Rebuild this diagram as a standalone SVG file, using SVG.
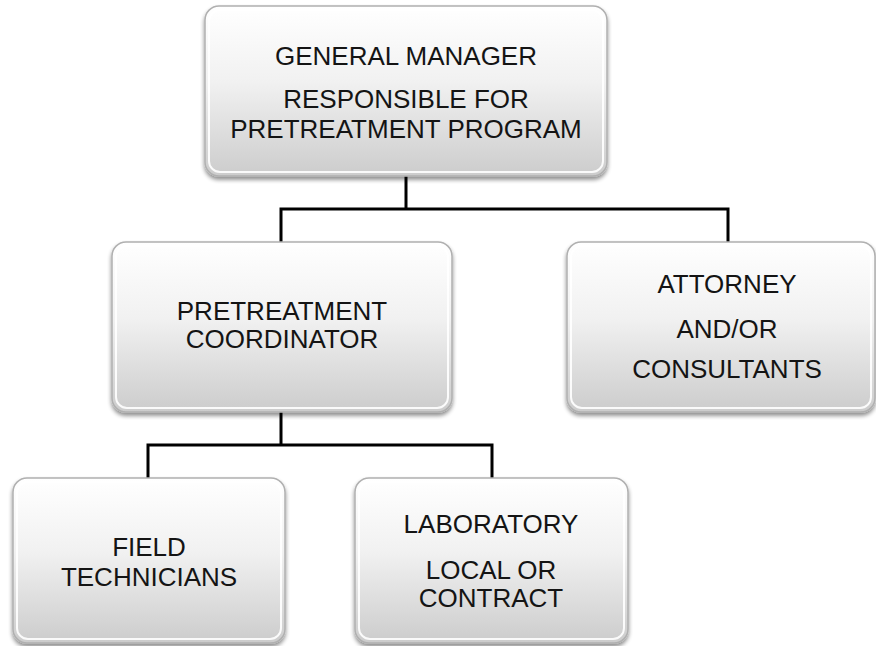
<svg xmlns="http://www.w3.org/2000/svg" width="876" height="646" viewBox="0 0 876 646">
  <defs>
    <linearGradient id="boxFill" x1="0" y1="0" x2="0" y2="1">
      <stop offset="0" stop-color="#ffffff"/>
      <stop offset="0.45" stop-color="#f1f1f1"/>
      <stop offset="1" stop-color="#cccccc"/>
    </linearGradient>
    <filter id="shadow" x="-5%" y="-5%" width="110%" height="115%">
      <feGaussianBlur in="SourceAlpha" stdDeviation="2"/>
      <feOffset dx="0" dy="3" result="b"/>
      <feComponentTransfer><feFuncA type="linear" slope="0.45"/></feComponentTransfer>
      <feMerge><feMergeNode/><feMergeNode in="SourceGraphic"/></feMerge>
    </filter>
  </defs>
  <style>
    .box { fill: url(#boxFill); stroke: #b0b0b0; stroke-width: 1.5; filter: url(#shadow); }
    .hl { fill: none; stroke: #ffffff; stroke-width: 2; opacity: 0.9; }
    .lbl { font-family: "Liberation Sans", Arial, sans-serif; font-size: 26px; fill: #141414; text-anchor: middle; }
    .conn { fill: none; stroke: #000000; stroke-width: 3; }
  </style>
  <rect width="876" height="646" fill="#ffffff"/>

  <g id="connectors">
    <polyline class="conn" points="406,176 406,209"/>
    <polyline class="conn" points="281,242 281,209 728,209 728,242"/>
    <polyline class="conn" points="281,412 281,445"/>
    <polyline class="conn" points="148,479 148,445 492,445 492,479"/>
  </g>

  <g id="general-manager">
    <rect class="box" x="205" y="6" width="402" height="170" rx="14"/>
    <rect class="hl" x="209" y="10" width="394" height="162" rx="11"/>
    <text class="lbl" x="406" y="65">GENERAL MANAGER</text>
    <text class="lbl" x="406" y="108">RESPONSIBLE FOR</text>
    <text class="lbl" x="406" y="138">PRETREATMENT PROGRAM</text>
  </g>

  <g id="pretreatment-coordinator">
    <rect class="box" x="112" y="242" width="340" height="170" rx="14"/>
    <rect class="hl" x="116" y="246" width="332" height="162" rx="11"/>
    <text class="lbl" x="282" y="320">PRETREATMENT</text>
    <text class="lbl" x="282" y="348">COORDINATOR</text>
  </g>

  <g id="attorney">
    <rect class="box" x="567" y="242" width="308" height="170" rx="14"/>
    <rect class="hl" x="571" y="246" width="300" height="162" rx="11"/>
    <text class="lbl" x="727" y="293">ATTORNEY</text>
    <text class="lbl" x="727" y="338">AND/OR</text>
    <text class="lbl" x="727" y="378">CONSULTANTS</text>
  </g>

  <g id="field-technicians">
    <rect class="box" x="13" y="478" width="272" height="165" rx="14"/>
    <rect class="hl" x="17" y="482" width="264" height="157" rx="11"/>
    <text class="lbl" x="149" y="556">FIELD</text>
    <text class="lbl" x="149" y="586">TECHNICIANS</text>
  </g>

  <g id="laboratory">
    <rect class="box" x="355" y="478" width="273" height="165" rx="14"/>
    <rect class="hl" x="359" y="482" width="265" height="157" rx="11"/>
    <text class="lbl" x="491" y="533">LABORATORY</text>
    <text class="lbl" x="491" y="579">LOCAL OR</text>
    <text class="lbl" x="491" y="607">CONTRACT</text>
  </g>
</svg>
